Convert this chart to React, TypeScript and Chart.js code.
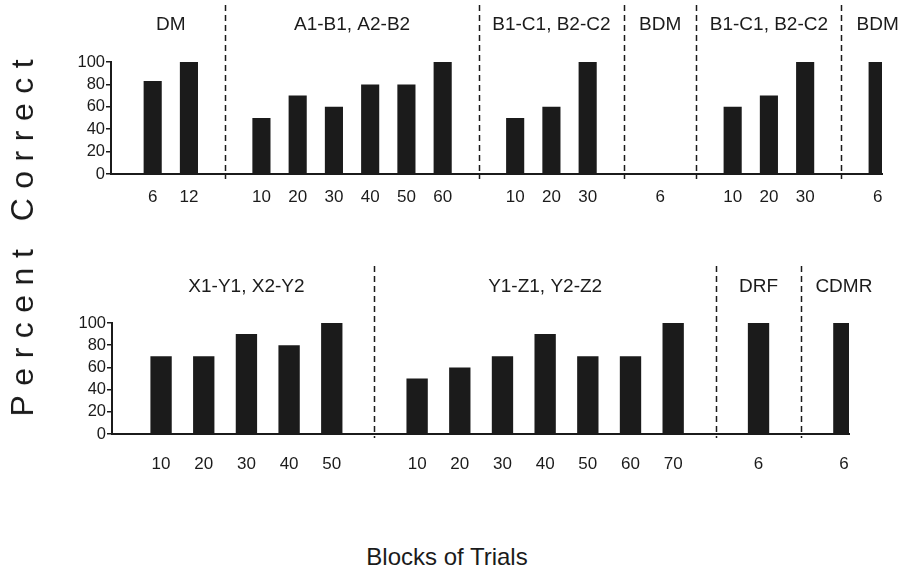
import React, { useEffect, useRef } from 'react';
import { Chart, registerables } from 'chart.js';

Chart.register(...registerables);

// ---------- Top panel data ----------
const dmBlocks = ['6', '12'];
const dmValues = [83, 100];
const ab1Blocks = ['10', '20', '30', '40', '50', '60'];
const ab1Values = [50, 70, 60, 80, 80, 100];
const bc1Blocks = ['10', '20', '30'];
const bc1Values = [50, 60, 100];
const bdm1Blocks = ['6'];
const bdm1Values = [0];
const bc2Blocks = ['10', '20', '30'];
const bc2Values = [60, 70, 100];
const bdm2Blocks = ['6'];
const bdm2Values = [100];

// ---------- Bottom panel data ----------
const xyBlocks = ['10', '20', '30', '40', '50'];
const xyValues = [70, 70, 90, 80, 100];
const yzBlocks = ['10', '20', '30', '40', '50', '60', '70'];
const yzValues = [50, 60, 70, 90, 70, 70, 100];
const drfBlocks = ['6'];
const drfValues = [100];
const cdmrBlocks = ['6'];
const cdmrValues = [100];

const yTickValues = [0, 20, 40, 60, 80, 100];
const yAxisTitle = 'Percent Correct';
const xAxisTitle = 'Blocks of Trials';

type Group = { name: string; blocks: string[]; values: number[] };

const topGroups: Group[] = [
  { name: 'DM', blocks: dmBlocks, values: dmValues },
  { name: 'A1-B1, A2-B2', blocks: ab1Blocks, values: ab1Values },
  { name: 'B1-C1, B2-C2', blocks: bc1Blocks, values: bc1Values },
  { name: 'BDM', blocks: bdm1Blocks, values: bdm1Values },
  { name: 'B1-C1, B2-C2', blocks: bc2Blocks, values: bc2Values },
  { name: 'BDM', blocks: bdm2Blocks, values: bdm2Values },
];

const bottomGroups: Group[] = [
  { name: 'X1-Y1, X2-Y2', blocks: xyBlocks, values: xyValues },
  { name: 'Y1-Z1, Y2-Z2', blocks: yzBlocks, values: yzValues },
  { name: 'DRF', blocks: drfBlocks, values: drfValues },
  { name: 'CDMR', blocks: cdmrBlocks, values: cdmrValues },
];

const FONT = '"Liberation Sans", Arial, Helvetica, sans-serif';
const INK = '#1b1b1b';
const W = 903;

type PanelCfg = {
  height: number;
  area: { left: number; right: number; top: number; bottom: number };
  labelPad: number;
  divTop: number;
  divBottom: number;
  groupLabelY: number;
};

function layoutGroups(groups: Group[]) {
  const slots: number[] = [];
  const labels: string[] = [];
  const values: number[] = [];
  const dividers: number[] = [];
  const centers: { name: string; center: number }[] = [];
  let pos = 0;
  groups.forEach((g, gi) => {
    const start = pos;
    g.blocks.forEach((b, i) => {
      slots.push(pos);
      labels.push(b);
      values.push(g.values[i]);
      pos += 1;
    });
    centers.push({ name: g.name, center: (start + pos - 1) / 2 });
    if (gi < groups.length - 1) {
      dividers.push(pos);
      pos += 1;
    }
  });
  return { slots, labels, values, dividers, centers, last: pos - 1 };
}

function Panel({ groups, cfg, top }: { groups: Group[]; cfg: PanelCfg; top: number }) {
  const ref = useRef<HTMLCanvasElement | null>(null);
  useEffect(() => {
    if (!ref.current) return;
    const L = layoutGroups(groups);
    const decor = {
      id: 'panelDecor',
      afterDraw(chart: any) {
        const { ctx } = chart;
        const xs = chart.scales.x;
        ctx.save();
        ctx.strokeStyle = INK;
        ctx.lineWidth = 1.5;
        ctx.setLineDash([6, 4]);
        for (const d of L.dividers) {
          const px = Math.round(xs.getPixelForValue(d)) + 0.5;
          ctx.beginPath();
          ctx.moveTo(px, cfg.divTop);
          ctx.lineTo(px, cfg.divBottom);
          ctx.stroke();
        }
        ctx.setLineDash([]);
        ctx.fillStyle = INK;
        ctx.font = `19px ${FONT}`;
        ctx.textAlign = 'center';
        ctx.textBaseline = 'middle';
        for (const c of L.centers) {
          ctx.fillText(c.name, xs.getPixelForValue(c.center), cfg.groupLabelY);
        }
        ctx.restore();
      },
    };
    const chart = new Chart(ref.current, {
      type: 'bar',
      data: {
        datasets: [
          {
            data: L.slots.map((s, i) => ({ x: s, y: L.values[i] })),
            backgroundColor: INK,
            borderWidth: 0,
            barPercentage: 0.5,
            categoryPercentage: 1,
          } as any,
        ],
      },
      options: {
        responsive: false,
        animation: false,
        devicePixelRatio: 1,
        layout: {
          padding: { top: cfg.area.top, right: W - cfg.area.right, bottom: 0, left: 0 },
        },
        plugins: { legend: { display: false }, tooltip: { enabled: false } },
        scales: {
          x: {
            type: 'linear',
            min: -1.15,
            max: L.last + 0.12,
            offset: false,
            grid: { display: false, drawTicks: false },
            border: { display: true, color: INK, width: 2 },
            afterBuildTicks: (s: any) => {
              s.ticks = L.slots.map((v) => ({ value: v }));
            },
            afterFit: (s: any) => {
              s.height = cfg.height - cfg.area.bottom;
            },
            ticks: {
              autoSkip: false,
              maxRotation: 0,
              padding: cfg.labelPad,
              color: INK,
              font: { size: 17, family: FONT },
              callback: (_v: any, i: number) => L.labels[i],
            },
          },
          y: {
            min: 0,
            max: 100,
            afterBuildTicks: (s: any) => {
              s.ticks = yTickValues.map((v) => ({ value: v }));
            },
            afterFit: (s: any) => {
              s.width = cfg.area.left;
            },
            grid: {
              display: true,
              drawOnChartArea: false,
              drawTicks: true,
              tickLength: 5,
              color: INK,
              lineWidth: 1.5,
            },
            border: { display: true, color: INK, width: 2 },
            ticks: {
              autoSkip: false,
              padding: 1,
              color: INK,
              font: { size: 16.5, family: FONT, lineHeight: 1 },
            },
          },
        },
      } as any,
      plugins: [decor],
    });
    return () => chart.destroy();
  }, []);
  return (
    <canvas
      ref={ref}
      width={W}
      height={cfg.height}
      style={{ position: 'absolute', left: 0, top, width: W, height: cfg.height, display: 'block' }}
    />
  );
}

const topCfg: PanelCfg = {
  height: 230,
  area: { left: 111, right: 882, top: 62, bottom: 174 },
  labelPad: 13,
  divTop: 5,
  divBottom: 179,
  groupLabelY: 25,
};

const bottomCfg: PanelCfg = {
  height: 280,
  area: { left: 112, right: 849, top: 83, bottom: 194 },
  labelPad: 20,
  divTop: 26,
  divBottom: 198,
  groupLabelY: 47,
};

export default function App() {
  return (
    <div style={{ position: 'absolute', left: 0, top: 0, width: W, height: 571, background: '#fff', overflow: 'hidden' }}>
      <Panel groups={topGroups} cfg={topCfg} top={0} />
      <Panel groups={bottomGroups} cfg={bottomCfg} top={240} />
      <div
        style={{
          position: 'absolute',
          left: 22,
          top: 238,
          transform: 'translate(-50%, -50%) rotate(-90deg)',
          fontFamily: FONT,
          fontSize: 32,
          letterSpacing: 9.5,
          paddingLeft: 9.5,
          lineHeight: 1,
          whiteSpace: 'nowrap',
          color: INK,
        }}
      >
        {yAxisTitle}
      </div>
      <div
        style={{
          position: 'absolute',
          left: 447,
          top: 545,
          transform: 'translateX(-50%)',
          fontFamily: FONT,
          fontSize: 24,
          lineHeight: 1,
          whiteSpace: 'nowrap',
          color: INK,
        }}
      >
        {xAxisTitle}
      </div>
    </div>
  );
}
